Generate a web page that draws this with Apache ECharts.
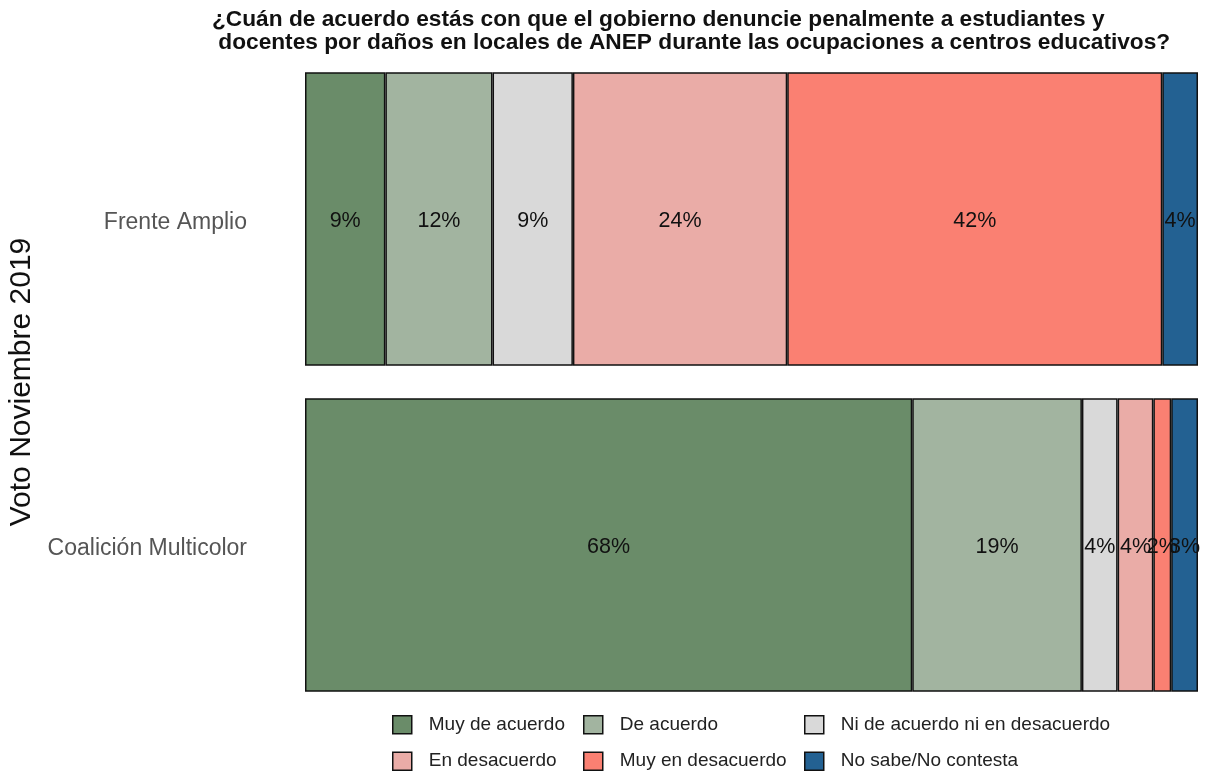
<!DOCTYPE html>
<html>
<head>
<meta charset="utf-8">
<script src="https://cdn.jsdelivr.net/npm/echarts@6/dist/echarts.min.js"></script>
<style>html,body{margin:0;padding:0;background:#fff}#c{width:1205px;height:774px}</style>
</head>
<body>
<div id="c"></div>
<script>
const categories = ['Frente Amplio', 'Coalición Multicolor'];
const seriesNames = ['Muy de acuerdo', 'De acuerdo', 'Ni de acuerdo ni en desacuerdo', 'En desacuerdo', 'Muy en desacuerdo', 'No sabe/No contesta'];
const muyDeAcuerdo = [9, 68];
const deAcuerdo = [12, 19];
const niNi = [9, 4];
const enDesacuerdo = [24, 4];
const muyEnDesacuerdo = [42, 2];
const noSabe = [4, 3];
const colors = ['#6a8c69', '#a2b4a0', '#d9d9d9', '#eaaca7', '#fa8072', '#236192'];

const values = [muyDeAcuerdo, deAcuerdo, niNi, enDesacuerdo, muyEnDesacuerdo, noSabe];
const font = 'Liberation Sans, Arial, sans-serif';

const chart = echarts.init(document.getElementById('c'));
const series = seriesNames.map((name, i) => ({
  name, type: 'bar', stack: 'total',
  barCategoryGap: '10%',
  data: values[i],
  itemStyle: { color: colors[i], borderColor: '#111', borderWidth: 1.5 },
  label: { show: true, position: 'inside', formatter: p => p.value + '%', color: '#111', fontSize: 21.5, fontFamily: font, offset: [0, 2] },
  emphasis: { disabled: true }
}));

function legendCol(left, names) {
  return {
    orient: 'vertical', left, top: 715, height: 59, padding: 0,
    itemWidth: 19, itemHeight: 18, itemGap: 17,
    data: names, selectedMode: false, icon: 'rect',
    textStyle: { fontSize: 19, color: '#222', fontFamily: font, padding: [0, 0, 0, 12] },
    itemStyle: { borderColor: '#111', borderWidth: 1.5 }
  };
}

chart.setOption({
  animation: false,
  title: {
    text: '¿Cuán de acuerdo estás con que el gobierno denuncie penalmente a estudiantes y\n docentes por daños en locales de ANEP durante las ocupaciones a centros educativos?',
    left: 212, top: 8, padding: 0,
    textStyle: { fontSize: 22.7, fontWeight: 'bold', color: '#111', fontFamily: font, lineHeight: 23 }
  },
  legend: [
    legendCol(392, [seriesNames[0], seriesNames[3]]),
    legendCol(583, [seriesNames[1], seriesNames[4]]),
    legendCol(804, [seriesNames[2], seriesNames[5]])
  ],
  grid: { left: 305, right: 7, top: 56, bottom: 66, outerBoundsMode: 'none', containLabel: false },
  xAxis: { type: 'value', min: 0, max: 100, show: false },
  yAxis: {
    type: 'category', data: categories, inverse: true,
    axisLine: { show: false }, axisTick: { show: false },
    axisLabel: {
      margin: 58,
      formatter: v => '{a|' + v + '}',
      rich: { a: { fontSize: 23, color: '#555', fontFamily: font, padding: [8, 0, 0, 0] } }
    },
    name: 'Voto Noviembre 2019', nameLocation: 'middle', nameGap: 268, nameRotate: 90,
    nameTextStyle: { fontSize: 30, color: '#111', fontFamily: font }
  },
  series
});
</script>
</body>
</html>
